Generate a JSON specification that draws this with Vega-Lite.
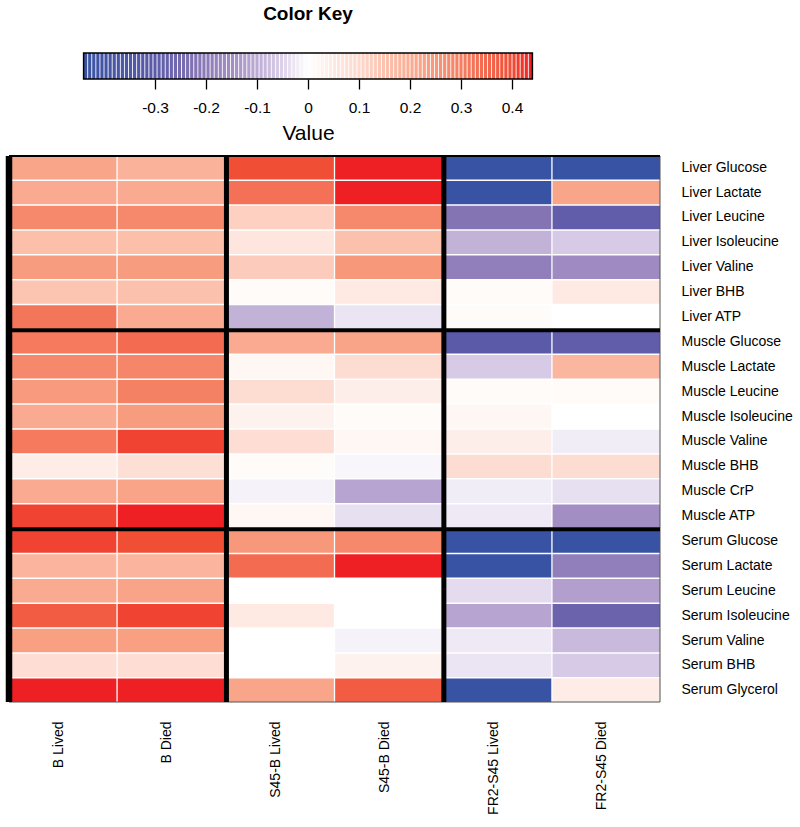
{
 "$schema": "https://vega.github.io/schema/vega-lite/v6.json",
 "padding": {"left": 5, "top": 5, "right": 3, "bottom": 5},
 "background": "white",
 "spacing": 9,
 "config": {"font": "Liberation Sans", "view": {"stroke": null}, "axis": {"labelColor": "black", "titleColor": "black", "grid": false}},
 "datasets": {
  "key": [{"v":-0.436},{"v":-0.428},{"v":-0.42},{"v":-0.412},{"v":-0.404},{"v":-0.396},{"v":-0.388},{"v":-0.38},{"v":-0.372},{"v":-0.364},{"v":-0.356},{"v":-0.348},{"v":-0.34},{"v":-0.332},{"v":-0.324},{"v":-0.316},{"v":-0.308},{"v":-0.3},{"v":-0.292},{"v":-0.284},{"v":-0.276},{"v":-0.268},{"v":-0.26},{"v":-0.252},{"v":-0.244},{"v":-0.236},{"v":-0.228},{"v":-0.22},{"v":-0.212},{"v":-0.204},{"v":-0.196},{"v":-0.188},{"v":-0.18},{"v":-0.172},{"v":-0.164},{"v":-0.156},{"v":-0.148},{"v":-0.14},{"v":-0.132},{"v":-0.124},{"v":-0.116},{"v":-0.108},{"v":-0.1},{"v":-0.092},{"v":-0.084},{"v":-0.076},{"v":-0.068},{"v":-0.06},{"v":-0.052},{"v":-0.044},{"v":-0.036},{"v":-0.028},{"v":-0.02},{"v":-0.012},{"v":-0.004},
   {"v":0.004},{"v":0.012},{"v":0.02},{"v":0.028},{"v":0.036},{"v":0.044},{"v":0.052},{"v":0.06},{"v":0.068},{"v":0.076},{"v":0.084},{"v":0.092},{"v":0.1},{"v":0.108},{"v":0.116},{"v":0.124},{"v":0.132},{"v":0.14},{"v":0.148},{"v":0.156},{"v":0.164},{"v":0.172},{"v":0.18},{"v":0.188},{"v":0.196},{"v":0.204},{"v":0.212},{"v":0.22},{"v":0.228},{"v":0.236},{"v":0.244},{"v":0.252},{"v":0.26},{"v":0.268},{"v":0.276},{"v":0.284},{"v":0.292},{"v":0.3},{"v":0.308},{"v":0.316},{"v":0.324},{"v":0.332},{"v":0.34},{"v":0.348},{"v":0.356},{"v":0.364},{"v":0.372},{"v":0.38},{"v":0.388},{"v":0.396},{"v":0.404},{"v":0.412},{"v":0.42},{"v":0.428},{"v":0.436}],
  "keyframe": [{"a": -0.44, "b": 0.44}],
  "cells": [
   {"row":"Liver Glucose","col":"B Lived","v":0.22},{"row":"Liver Glucose","col":"B Died","v":0.19},{"row":"Liver Glucose","col":"S45-B Lived","v":0.40},{"row":"Liver Glucose","col":"S45-B Died","v":0.44},{"row":"Liver Glucose","col":"FR2-S45  Lived","v":-0.44},{"row":"Liver Glucose","col":"FR2-S45 Died","v":-0.44},
   {"row":"Liver Lactate","col":"B Lived","v":0.21},{"row":"Liver Lactate","col":"B Died","v":0.21},{"row":"Liver Lactate","col":"S45-B Lived","v":0.33},{"row":"Liver Lactate","col":"S45-B Died","v":0.44},{"row":"Liver Lactate","col":"FR2-S45  Lived","v":-0.44},{"row":"Liver Lactate","col":"FR2-S45 Died","v":0.22},
   {"row":"Liver Leucine","col":"B Lived","v":0.28},{"row":"Liver Leucine","col":"B Died","v":0.28},{"row":"Liver Leucine","col":"S45-B Lived","v":0.12},{"row":"Liver Leucine","col":"S45-B Died","v":0.28},{"row":"Liver Leucine","col":"FR2-S45  Lived","v":-0.22},{"row":"Liver Leucine","col":"FR2-S45 Died","v":-0.29},
   {"row":"Liver Isoleucine","col":"B Lived","v":0.16},{"row":"Liver Isoleucine","col":"B Died","v":0.16},{"row":"Liver Isoleucine","col":"S45-B Lived","v":0.06},{"row":"Liver Isoleucine","col":"S45-B Died","v":0.155},{"row":"Liver Isoleucine","col":"FR2-S45  Lived","v":-0.09},{"row":"Liver Isoleucine","col":"FR2-S45 Died","v":-0.06},
   {"row":"Liver Valine","col":"B Lived","v":0.24},{"row":"Liver Valine","col":"B Died","v":0.24},{"row":"Liver Valine","col":"S45-B Lived","v":0.13},{"row":"Liver Valine","col":"S45-B Died","v":0.25},{"row":"Liver Valine","col":"FR2-S45  Lived","v":-0.19},{"row":"Liver Valine","col":"FR2-S45 Died","v":-0.16},
   {"row":"Liver BHB","col":"B Lived","v":0.145},{"row":"Liver BHB","col":"B Died","v":0.155},{"row":"Liver BHB","col":"S45-B Lived","v":0.01},{"row":"Liver BHB","col":"S45-B Died","v":0.05},{"row":"Liver BHB","col":"FR2-S45  Lived","v":0.01},{"row":"Liver BHB","col":"FR2-S45 Died","v":0.05},
   {"row":"Liver ATP","col":"B Lived","v":0.32},{"row":"Liver ATP","col":"B Died","v":0.21},{"row":"Liver ATP","col":"S45-B Lived","v":-0.09},{"row":"Liver ATP","col":"S45-B Died","v":-0.03},{"row":"Liver ATP","col":"FR2-S45  Lived","v":0.01},{"row":"Liver ATP","col":"FR2-S45 Died","v":0.0},
   {"row":"Muscle Glucose","col":"B Lived","v":0.31},{"row":"Muscle Glucose","col":"B Died","v":0.345},{"row":"Muscle Glucose","col":"S45-B Lived","v":0.21},{"row":"Muscle Glucose","col":"S45-B Died","v":0.225},{"row":"Muscle Glucose","col":"FR2-S45  Lived","v":-0.31},{"row":"Muscle Glucose","col":"FR2-S45 Died","v":-0.29},
   {"row":"Muscle Lactate","col":"B Lived","v":0.28},{"row":"Muscle Lactate","col":"B Died","v":0.285},{"row":"Muscle Lactate","col":"S45-B Lived","v":0.02},{"row":"Muscle Lactate","col":"S45-B Died","v":0.09},{"row":"Muscle Lactate","col":"FR2-S45  Lived","v":-0.06},{"row":"Muscle Lactate","col":"FR2-S45 Died","v":0.18},
   {"row":"Muscle Leucine","col":"B Lived","v":0.245},{"row":"Muscle Leucine","col":"B Died","v":0.295},{"row":"Muscle Leucine","col":"S45-B Lived","v":0.09},{"row":"Muscle Leucine","col":"S45-B Died","v":0.04},{"row":"Muscle Leucine","col":"FR2-S45  Lived","v":0.01},{"row":"Muscle Leucine","col":"FR2-S45 Died","v":0.01},
   {"row":"Muscle Isoleucine","col":"B Lived","v":0.21},{"row":"Muscle Isoleucine","col":"B Died","v":0.24},{"row":"Muscle Isoleucine","col":"S45-B Lived","v":0.03},{"row":"Muscle Isoleucine","col":"S45-B Died","v":0.01},{"row":"Muscle Isoleucine","col":"FR2-S45  Lived","v":0.02},{"row":"Muscle Isoleucine","col":"FR2-S45 Died","v":0.0},
   {"row":"Muscle Valine","col":"B Lived","v":0.31},{"row":"Muscle Valine","col":"B Died","v":0.41},{"row":"Muscle Valine","col":"S45-B Lived","v":0.085},{"row":"Muscle Valine","col":"S45-B Died","v":0.02},{"row":"Muscle Valine","col":"FR2-S45  Lived","v":0.04},{"row":"Muscle Valine","col":"FR2-S45 Died","v":-0.02},
   {"row":"Muscle BHB","col":"B Lived","v":0.045},{"row":"Muscle BHB","col":"B Died","v":0.08},{"row":"Muscle BHB","col":"S45-B Lived","v":0.01},{"row":"Muscle BHB","col":"S45-B Died","v":-0.01},{"row":"Muscle BHB","col":"FR2-S45  Lived","v":0.09},{"row":"Muscle BHB","col":"FR2-S45 Died","v":0.09},
   {"row":"Muscle CrP","col":"B Lived","v":0.21},{"row":"Muscle CrP","col":"B Died","v":0.225},{"row":"Muscle CrP","col":"S45-B Lived","v":-0.015},{"row":"Muscle CrP","col":"S45-B Died","v":-0.11},{"row":"Muscle CrP","col":"FR2-S45  Lived","v":-0.02},{"row":"Muscle CrP","col":"FR2-S45 Died","v":-0.035},
   {"row":"Muscle ATP","col":"B Lived","v":0.41},{"row":"Muscle ATP","col":"B Died","v":0.44},{"row":"Muscle ATP","col":"S45-B Lived","v":0.02},{"row":"Muscle ATP","col":"S45-B Died","v":-0.035},{"row":"Muscle ATP","col":"FR2-S45  Lived","v":-0.025},{"row":"Muscle ATP","col":"FR2-S45 Died","v":-0.15},
   {"row":"Serum Glucose","col":"B Lived","v":0.41},{"row":"Serum Glucose","col":"B Died","v":0.40},{"row":"Serum Glucose","col":"S45-B Lived","v":0.25},{"row":"Serum Glucose","col":"S45-B Died","v":0.28},{"row":"Serum Glucose","col":"FR2-S45  Lived","v":-0.44},{"row":"Serum Glucose","col":"FR2-S45 Died","v":-0.44},
   {"row":"Serum Lactate","col":"B Lived","v":0.185},{"row":"Serum Lactate","col":"B Died","v":0.185},{"row":"Serum Lactate","col":"S45-B Lived","v":0.345},{"row":"Serum Lactate","col":"S45-B Died","v":0.44},{"row":"Serum Lactate","col":"FR2-S45  Lived","v":-0.44},{"row":"Serum Lactate","col":"FR2-S45 Died","v":-0.19},
   {"row":"Serum Leucine","col":"B Lived","v":0.21},{"row":"Serum Leucine","col":"B Died","v":0.225},{"row":"Serum Leucine","col":"S45-B Lived","v":0.0},{"row":"Serum Leucine","col":"S45-B Died","v":0.0},{"row":"Serum Leucine","col":"FR2-S45  Lived","v":-0.04},{"row":"Serum Leucine","col":"FR2-S45 Died","v":-0.12},
   {"row":"Serum Isoleucine","col":"B Lived","v":0.375},{"row":"Serum Isoleucine","col":"B Died","v":0.41},{"row":"Serum Isoleucine","col":"S45-B Lived","v":0.05},{"row":"Serum Isoleucine","col":"S45-B Died","v":0.0},{"row":"Serum Isoleucine","col":"FR2-S45  Lived","v":-0.11},{"row":"Serum Isoleucine","col":"FR2-S45 Died","v":-0.27},
   {"row":"Serum Valine","col":"B Lived","v":0.235},{"row":"Serum Valine","col":"B Died","v":0.235},{"row":"Serum Valine","col":"S45-B Lived","v":0.0},{"row":"Serum Valine","col":"S45-B Died","v":-0.015},{"row":"Serum Valine","col":"FR2-S45  Lived","v":-0.025},{"row":"Serum Valine","col":"FR2-S45 Died","v":-0.08},
   {"row":"Serum BHB","col":"B Lived","v":0.085},{"row":"Serum BHB","col":"B Died","v":0.085},{"row":"Serum BHB","col":"S45-B Lived","v":0.0},{"row":"Serum BHB","col":"S45-B Died","v":0.03},{"row":"Serum BHB","col":"FR2-S45  Lived","v":-0.03},{"row":"Serum BHB","col":"FR2-S45 Died","v":-0.06},
   {"row":"Serum Glycerol","col":"B Lived","v":0.44},{"row":"Serum Glycerol","col":"B Died","v":0.44},{"row":"Serum Glycerol","col":"S45-B Lived","v":0.22},{"row":"Serum Glycerol","col":"S45-B Died","v":0.375},{"row":"Serum Glycerol","col":"FR2-S45  Lived","v":-0.44},{"row":"Serum Glycerol","col":"FR2-S45 Died","v":0.045}
  ]
 },
 "vconcat": [
  {
   "width": 651, "height": 26,
   "title": {"text": "Color Key", "fontSize": 19, "fontWeight": "bold", "dx": -26.5, "offset": 28, "color": "black", "anchor": "middle", "font": "Liberation Sans"},
   "layer": [
    {"data": {"name": "key"},
     "mark": {"type": "tick", "orient": "vertical", "thickness": 3.2, "size": 26, "opacity": 1},
     "encoding": {
      "x": {"field": "v", "type": "quantitative",
            "scale": {"domain": [-0.5863, 0.6902], "nice": false, "zero": false},
            "axis": {"values": [-0.3,-0.2,-0.1,0,0.1,0.2,0.3,0.4], "format": ".1~f", "labelExpr": "replace(datum.label, '\u2212', '-')",
                     "domain": false, "ticks": true, "tickSize": 10, "tickColor": "black", "tickWidth": 1.3,
                     "labelFontSize": 15.5, "labelPadding": 11.5, "title": "Value", "titleFontSize": 21, "titleFontWeight": "normal",
                     "titlePadding": 6, "titleX": 299}},
      "color": {"field": "v", "type": "quantitative", "legend": null,
                "scale": {"type": "linear", "domain": [-0.44,-0.30,-0.22,-0.15,-0.10,-0.05,0,0.05,0.10,0.15,0.20,0.25,0.30,0.35,0.40,0.44],
                          "range": ["#3953A4","#5C5AA8","#8474B4","#A38EC4","#BCAAD4","#DDD2EA","#FFFFFF","#FEEAE3","#FDD8CD","#FCC3AF","#FAAE95","#F8987A","#F57E62","#F3694F","#F04E35","#EE2024"],
                          "interpolate": "rgb", "clamp": true}}
     }},
    {"data": {"name": "keyframe"},
     "mark": {"type": "rect", "filled": false, "stroke": "black", "strokeWidth": 1.5},
     "encoding": {"x": {"field": "a", "type": "quantitative"}, "x2": {"field": "b"}}}
   ]
  },
  {
   "width": 651, "height": 546,
   "layer": [
    {"data": {"name": "cells"},
     "mark": {"type": "rect"},
     "encoding": {
      "x": {"field": "col", "type": "nominal",
            "scale": {"domain": ["B Lived","B Died","S45-B Lived","S45-B Died","FR2-S45  Lived","FR2-S45 Died"], "paddingInner": 0.012, "paddingOuter": 0},
            "axis": {"orient": "bottom", "ticks": false, "domain": false, "labelAngle": -90, "labelAlign": "right", "labelBaseline": "alphabetic", "labelPadding": 19, "labelFontSize": 14, "title": null}},
      "y": {"field": "row", "type": "nominal",
            "scale": {"domain": ["Liver Glucose","Liver Lactate","Liver Leucine","Liver Isoleucine","Liver Valine","Liver BHB","Liver ATP","Muscle Glucose","Muscle Lactate","Muscle Leucine","Muscle Isoleucine","Muscle Valine","Muscle BHB","Muscle CrP","Muscle ATP","Serum Glucose","Serum Lactate","Serum Leucine","Serum Isoleucine","Serum Valine","Serum BHB","Serum Glycerol"], "paddingInner": 0.06, "paddingOuter": 0},
            "axis": {"orient": "right", "ticks": false, "domain": false, "labelPadding": 21, "labelFontSize": 14, "title": null}},
      "color": {"field": "v", "type": "quantitative", "legend": null,
                "scale": {"type": "linear", "domain": [-0.44,-0.30,-0.22,-0.15,-0.10,-0.05,0,0.05,0.10,0.15,0.20,0.25,0.30,0.35,0.40,0.44],
                          "range": ["#3953A4","#5C5AA8","#8474B4","#A38EC4","#BCAAD4","#DDD2EA","#FFFFFF","#FEEAE3","#FDD8CD","#FCC3AF","#FAAE95","#F8987A","#F57E62","#F3694F","#F04E35","#EE2024"],
                          "interpolate": "rgb", "clamp": true}}
     }},
    {"data": {"values": [{"col": "FR2-S45 Died"}]},
     "mark": {"type": "rule", "color": "#555555", "strokeWidth": 1},
     "encoding": {"x": {"field": "col", "type": "nominal", "bandPosition": 1}}},
    {"data": {"values": [{"row": "Serum Glycerol"}]},
     "mark": {"type": "rule", "color": "#555555", "strokeWidth": 1},
     "encoding": {"y": {"field": "row", "type": "nominal", "bandPosition": 1}}},
    {"data": {"values": [{"row": "Liver Glucose"}]},
     "mark": {"type": "rule", "color": "black", "strokeWidth": 2},
     "encoding": {"y": {"field": "row", "type": "nominal", "bandPosition": 0}}},
    {"data": {"values": [{"row": "Muscle Glucose"}, {"row": "Serum Glucose"}]},
     "mark": {"type": "rule", "color": "black", "strokeWidth": 4},
     "encoding": {"y": {"field": "row", "type": "nominal", "bandPosition": 0}}},
    {"data": {"values": [{"col": "S45-B Lived"}, {"col": "FR2-S45  Lived"}]},
     "mark": {"type": "rule", "color": "black", "strokeWidth": 5},
     "encoding": {"x": {"field": "col", "type": "nominal", "bandPosition": 0}}},
    {"data": {"values": [{"col": "B Lived"}]},
     "mark": {"type": "rule", "color": "black", "strokeWidth": 6.5},
     "encoding": {"x": {"field": "col", "type": "nominal", "bandPosition": 0}}}
   ]
  }
 ]
}
